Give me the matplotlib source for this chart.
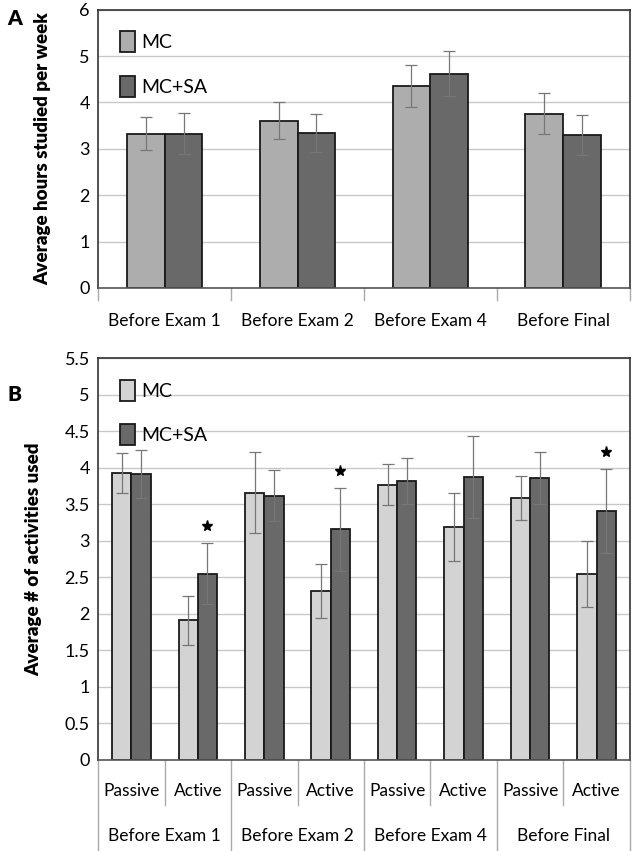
import numpy as np
import matplotlib
matplotlib.use('Agg')
import matplotlib.pyplot as plt
from matplotlib.lines import Line2D

plt.rcParams['font.family'] = ['Lato', 'DejaVu Sans']

# Panel A data
periods = ['Before Exam 1', 'Before Exam 2', 'Before Exam 4', 'Before Final']
hours_mc = [3.33, 3.61, 4.35, 3.76]
hours_mc_err = [0.36, 0.39, 0.45, 0.44]
hours_sa = [3.33, 3.35, 4.62, 3.30]
hours_sa_err = [0.45, 0.41, 0.49, 0.44]

# Panel B data
kinds = ['Passive', 'Active'] * 4
act_mc = [3.93, 1.91, 3.66, 2.31, 3.77, 3.19, 3.59, 2.55]
act_mc_err = [0.27, 0.34, 0.55, 0.37, 0.28, 0.47, 0.30, 0.45]
act_sa = [3.91, 2.55, 3.62, 3.16, 3.82, 3.87, 3.86, 3.41]
act_sa_err = [0.33, 0.42, 0.35, 0.57, 0.32, 0.56, 0.35, 0.58]
signif = [1, 3, 7]

c_mc_a = '#adadad'
c_mc_b = '#d3d3d3'
c_sa = '#696969'
err_kw = dict(ecolor='#777777', elinewidth=0.9, capsize=4.5, capthick=0.9)

fig = plt.figure(figsize=(6.33, 8.51), dpi=100)


def style(ax, ymax, step):
    ax.set_ylim(0, ymax)
    ax.set_yticks(np.arange(0, ymax + 0.01, step))
    ax.yaxis.grid(True, color='#c8c8c8', lw=1)
    ax.set_axisbelow(True)
    for s in ax.spines.values():
        s.set_color('#333333')
        s.set_linewidth(1.2)
    ax.spines['bottom'].set_color('#555555')
    ax.tick_params(axis='y', length=0, labelsize=13, pad=6)
    ax.tick_params(axis='x', length=0, labelbottom=False)


# ---- Panel A
axA = fig.add_axes([0.155, 0.6616, 0.84, 0.327])
x = np.arange(len(periods))
w = 0.285
axA.bar(x - w / 2, hours_mc, w, yerr=hours_mc_err, color=c_mc_a,
        edgecolor='#1a1a1a', lw=1.3, error_kw=err_kw, label='MC')
axA.bar(x + w / 2, hours_sa, w, yerr=hours_sa_err, color=c_sa,
        edgecolor='#1a1a1a', lw=1.3, error_kw=err_kw, label='MC+SA')
axA.set_xlim(-0.5, len(periods) - 0.5)
style(axA, 6, 1)
axA.set_ylabel('Average hours studied per week', fontsize=13.5,
               fontweight='heavy', labelpad=20)
tr = axA.get_xaxis_transform()
for i in range(len(periods) + 1):
    axA.add_line(Line2D([i - 0.5, i - 0.5], [0, -0.043], transform=tr,
                        color='#aaaaaa', lw=1, clip_on=False))
for i, p in enumerate(periods):
    axA.text(i, -0.12, p, transform=tr, ha='center', va='center', fontsize=12.5)
axA.legend(loc='upper left', frameon=False, fontsize=14, handlelength=0.8,
           handleheight=1.3, labelspacing=1.2, handletextpad=0.3,
           borderaxespad=0.7)
fig.text(0.012, 0.978, 'A', fontsize=15, fontweight='heavy', va='center')

# ---- Panel B
axB = fig.add_axes([0.155, 0.107, 0.84, 0.472])
xb = np.arange(len(kinds))
wb = 0.29
axB.bar(xb - wb / 2, act_mc, wb, yerr=act_mc_err, color=c_mc_b,
        edgecolor='#1a1a1a', lw=1.3, error_kw=err_kw, label='MC')
axB.bar(xb + wb / 2, act_sa, wb, yerr=act_sa_err, color=c_sa,
        edgecolor='#1a1a1a', lw=1.3, error_kw=err_kw, label='MC+SA')
for i in signif:
    axB.plot(i + wb / 2, act_sa[i] + act_sa_err[i] + 0.23, marker='*',
             color='black', markersize=8, ls='none')
axB.set_xlim(-0.5, len(kinds) - 0.5)
style(axB, 5.5, 0.5)
axB.set_yticklabels([f'{v:g}' for v in np.arange(0, 5.51, 0.5)])
axB.set_ylabel('Average # of activities used', fontsize=13.5,
               fontweight='heavy', labelpad=16)
trb = axB.get_xaxis_transform()
for i in range(len(kinds) + 1):
    bottom = -0.226 if i % 2 == 0 else -0.112
    axB.add_line(Line2D([i - 0.5, i - 0.5], [0, bottom], transform=trb,
                        color='#aaaaaa', lw=1, clip_on=False))
for i, k in enumerate(kinds):
    axB.text(i, -0.077, k, transform=trb, ha='center', va='center', fontsize=12.5)
for j, p in enumerate(periods):
    axB.text(2 * j + 0.5, -0.19, p, transform=trb, ha='center', va='center',
             fontsize=12.5)
axB.legend(loc='upper left', frameon=False, fontsize=14, handlelength=0.8,
           handleheight=1.3, labelspacing=1.2, handletextpad=0.3,
           borderaxespad=0.7)
fig.text(0.012, 0.537, 'B', fontsize=15, fontweight='heavy', va='center')

fig.savefig('out.png', dpi=100)
